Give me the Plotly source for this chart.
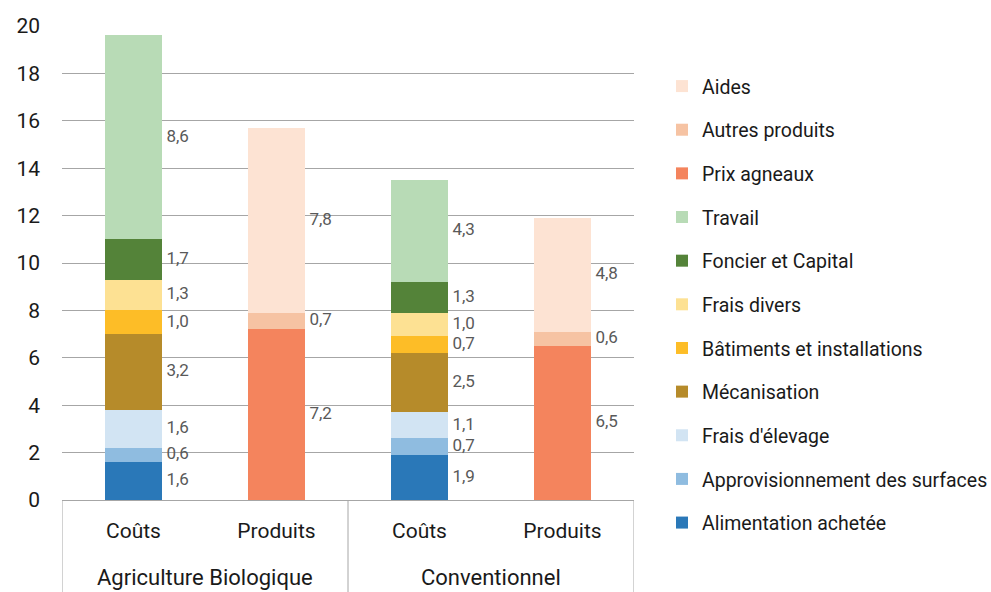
import plotly.graph_objects as go

# Bars along the x axis and their grouping
bar_labels = ["Coûts", "Produits", "Coûts", "Produits"]
group_labels = ["Agriculture Biologique", "Conventionnel"]

# Cost components (bottom to top of the stack)
cost_series = ["Alimentation achetée", "Approvisionnement des surfaces", "Frais d'élevage",
               "Mécanisation", "Bâtiments et installations", "Frais divers",
               "Foncier et Capital", "Travail"]
cost_bio = [1.6, 0.6, 1.6, 3.2, 1.0, 1.3, 1.7, 8.6]
cost_conv = [1.9, 0.7, 1.1, 2.5, 0.7, 1.0, 1.3, 4.3]
cost_colors = ["#2a78b8", "#8fbce0", "#d2e4f3", "#b68b2a", "#fdbd27", "#fde193",
               "#548339", "#b8dbb6"]

# Product components (bottom to top of the stack)
prod_series = ["Prix agneaux", "Autres produits", "Aides"]
prod_bio = [7.2, 0.7, 7.8]
prod_conv = [6.5, 0.6, 4.8]
prod_colors = ["#f4845d", "#f6c3a3", "#fde3d3"]

FONT = "Roboto, Arial, sans-serif"
BAR_W = 0.4
LABEL_GAP = 0.03
xs = list(range(len(bar_labels)))
n_series = len(cost_series) + len(prod_series)

fig = go.Figure()

# Legend lists the top of the stack first, so rank runs downward from the last trace
rank = n_series
for name, vb, vc, col in zip(cost_series, cost_bio, cost_conv, cost_colors):
    fig.add_trace(go.Bar(x=xs, y=[vb, None, vc, None], name=name, marker_color=col,
                         marker_line_width=0, width=BAR_W, legendgroup=name,
                         legendrank=rank))
    rank -= 1
for name, vb, vc, col in zip(prod_series, prod_bio, prod_conv, prod_colors):
    fig.add_trace(go.Bar(x=xs, y=[None, vb, None, vc], name=name, marker_color=col,
                         marker_line_width=0, width=BAR_W, legendgroup=name,
                         legendrank=rank))
    rank -= 1

# Value labels beside each segment, centred on it
lx, ly, lt = [], [], []
for xi, stack in zip(xs, [cost_bio, prod_bio, cost_conv, prod_conv]):
    base = 0.0
    for v in stack:
        lx.append(xi + BAR_W / 2 + LABEL_GAP)
        ly.append(base + v / 2)
        lt.append(f"{v:.1f}".replace(".", ","))
        base += v
fig.add_trace(go.Scatter(x=lx, y=ly, text=lt, mode="text", textposition="middle right",
                         textfont=dict(family=FONT, size=17, color="#595959"),
                         showlegend=False, hoverinfo="skip"))

# Group labels and the boxes around them under the axis
for gi, g in enumerate(group_labels):
    fig.add_annotation(x=gi * 2 + 0.5, y=0, xref="x", yref="paper", yshift=-77,
                       text=g, showarrow=False, yanchor="middle",
                       font=dict(family=FONT, size=22, color="#1a1a1a"))
for xb in [-0.5, 1.5, 3.5]:
    fig.add_shape(type="line", x0=xb, x1=xb, xref="x", y0=0, y1=-0.3, yref="paper",
                  line=dict(color="#a6a6a6", width=1))

fig.update_layout(
    width=991, height=592,
    margin=dict(l=62, r=357, t=26, b=92),
    barmode="stack",
    paper_bgcolor="white", plot_bgcolor="white",
    font=dict(family=FONT, color="#1a1a1a"),
    showlegend=True,
    legend=dict(traceorder="grouped", xref="container", yref="container",
                x=0.668, xanchor="left", y=0.887, yanchor="top", maxheight=580,
                font=dict(family=FONT, size=19.5, color="#1a1a1a"),
                tracegroupgap=15.3, itemwidth=30, bgcolor="rgba(0,0,0,0)"),
    xaxis=dict(range=[-0.5, 3.5], tickvals=xs, ticktext=bar_labels, showgrid=False,
               zeroline=False, showline=True, linecolor="#a6a6a6", ticks="",
               ticklabelstandoff=12, tickfont=dict(family=FONT, size=21, color="#1a1a1a")),
    yaxis=dict(range=[0, 20], dtick=2, showgrid=True, gridcolor="#a6a6a6", gridwidth=1,
               zeroline=False, showline=False, ticks="", ticklabelstandoff=21,
               tickfont=dict(family=FONT, size=21, color="#1a1a1a")),
)

fig.write_html("out.html")
